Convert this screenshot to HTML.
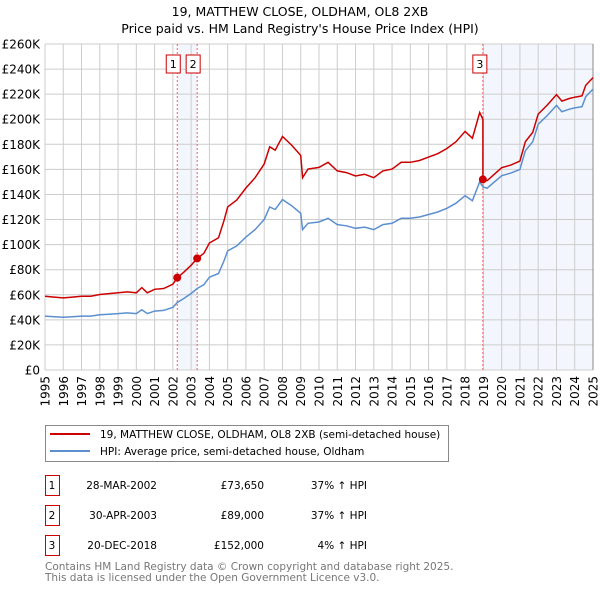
<!DOCTYPE html>
<html><head><meta charset="utf-8"><style>
body{margin:0;background:#fff;font-family:"DejaVu Sans","Liberation Sans",sans-serif;}
svg text{font-family:"DejaVu Sans","Liberation Sans",sans-serif;}
</style></head><body>
<svg id="c" width="600" height="590" viewBox="0 0 600 590" xmlns="http://www.w3.org/2000/svg">
<text x="300" y="16" text-anchor="middle" font-size="12.5">19, MATTHEW CLOSE, OLDHAM, OL8 2XB</text>
<text x="300" y="33" text-anchor="middle" font-size="12.5">Price paid vs. HM Land Registry's House Price Index (HPI)</text>
<g id="plot"></g>
<g>
<rect x="45.5" y="425.5" width="403" height="36" fill="#fff" stroke="#888"/>
<line x1="50" y1="434" x2="90" y2="434" stroke="#cc0000" stroke-width="2"/>
<text x="100" y="438" font-size="10.5">19, MATTHEW CLOSE, OLDHAM, OL8 2XB (semi-detached house)</text>
<line x1="50" y1="451" x2="90" y2="451" stroke="#5b8fd0" stroke-width="2"/>
<text x="100" y="455" font-size="10.5">HPI: Average price, semi-detached house, Oldham</text>
</g>
<g id="table" font-size="10.5"></g>
<text x="45" y="570" font-size="10.5" fill="#777">Contains HM Land Registry data © Crown copyright and database right 2025.</text>
<text x="45" y="581" font-size="10.5" fill="#777">This data is licensed under the Open Government Licence v3.0.</text>
</svg>
<script>
const hpiT=[1995,1995.5,1996,1996.5,1997,1997.5,1998,1998.5,1999,1999.5,2000,2000.3,2000.6,2001,2001.5,2002,2002.24,2002.6,2003,2003.33,2003.7,2004,2004.5,2004.8,2005,2005.5,2006,2006.5,2007,2007.3,2007.6,2008,2008.5,2009,2009.1,2009.4,2010,2010.5,2011,2011.5,2012,2012.5,2013,2013.5,2014,2014.5,2015,2015.5,2016,2016.5,2017,2017.5,2018,2018.4,2018.8,2018.97,2019.2,2019.6,2020,2020.5,2021,2021.3,2021.7,2022,2022.5,2023,2023.3,2023.7,2024,2024.4,2024.6,2025];
const hpiV=[43,42.5,42,42.5,43,43,44,44.5,45,45.5,45,48,45,47,47.5,50,53.8,57,61,65,68,74,77,87,95,99,106,112,120,130,128,136,131,125,112,117,118,121,116,115,113,114,112,116,117,121,121,122,124,126,129,133,139,135,150,146,145,150,155,157,160,175,182,196,203,211,206,208,209,210,218,224];
const saleT=[2002.24,2003.33,2018.97];
const saleP=[73.65,89,152];
const saleDates=["28-MAR-2002","30-APR-2003","20-DEC-2018"];
const salePriceLabels=["£73,650","£89,000","£152,000"];
const salePct=["37% ↑ HPI","37% ↑ HPI","4% ↑ HPI"];
const yTicks=[0,20,40,60,80,100,120,140,160,180,200,220,240,260];
const years=[];for(let y=1995;y<=2025;y++)years.push(y);

const X0=45,X1=593,Y0=370,Y1=44;
const x=t=>X0+(t-1995)*(X1-X0)/30;
const y=v=>Y0-v*(Y0-Y1)/260;
const NS="http://www.w3.org/2000/svg";
const plot=document.getElementById('plot');
function mk(tag,attrs,parent){const e=document.createElementNS(NS,tag);for(const k in attrs)e.setAttribute(k,attrs[k]);(parent||plot).appendChild(e);return e;}
function hpiAt(t){for(let i=0;i<hpiT.length-1;i++){if(t>=hpiT[i]&&t<=hpiT[i+1]){const f=(t-hpiT[i])/(hpiT[i+1]-hpiT[i]);return hpiV[i]+f*(hpiV[i+1]-hpiV[i]);}}return hpiV[hpiV.length-1];}

let r=mk('rect',{x:x(saleT[0]),y:Y1,width:x(saleT[1])-x(saleT[0]),height:Y0-Y1,fill:'#eef3fc',opacity:0.7});


r=mk('rect',{x:x(saleT[2]),y:Y1,width:X1-x(saleT[2]),height:Y0-Y1,fill:'#eef3fc',opacity:0.7});


yTicks.forEach(v=>{
 const l=mk('line',{x1:X0,x2:X1,y1:y(v),y2:y(v),stroke:'#ccc','stroke-width':1});
 
 
 const t=mk('text',{x:40,y:y(v)+4.5,'text-anchor':'end','font-size':12});
 
 
 t.textContent=v===0?'£0':'£'+v+'K';
});
years.forEach(yr=>{
 const l=mk('line',{x1:x(yr),x2:x(yr),y1:Y1,y2:Y0,stroke:yr===2025?'#888':'#ccc','stroke-width':1});
 
 
 const t=mk('text',{x:0,y:0,'text-anchor':'end','font-size':12,transform:`translate(${x(yr)+4.5},376) rotate(-90)`});
 
 
 t.textContent=yr;
});
const labelOff=[-4,-4,-3];
saleT.forEach((t,i)=>{
 const l=mk('line',{x1:x(t),x2:x(t),y1:Y1,y2:Y0,stroke:'#f06060','stroke-width':1,'stroke-dasharray':'2,2'});
 
 
 const bx=x(t)+labelOff[i];
 const b=mk('rect',{x:bx-7,y:55,width:14,height:18,fill:'#fff',stroke:'#cc0000'});
 
 
 const tx=mk('text',{x:bx,y:68,'text-anchor':'middle','font-size':11});
 
 
 tx.textContent=i+1;
});
const hp=hpiT.map((t,i)=>x(t).toFixed(1)+','+y(hpiV[i]).toFixed(1)).join(' ');
const hl=mk('polyline',{points:hp,fill:'none',stroke:'#5b8fd0','stroke-width':1.5});


function ratioAt(t){let k=0;for(let i=0;i<saleT.length;i++)if(t>=saleT[i])k=i;return saleP[k]/hpiAt(saleT[k]);}
const pts=[];
hpiT.forEach((t,i)=>{
 if(Math.abs(t-saleT[2])<1e-6){pts.push([t,hpiV[i]*saleP[1]/hpiAt(saleT[1])]);}
 pts.push([t,hpiV[i]*ratioAt(t)]);
});
const pl=mk('polyline',{points:pts.map(p=>x(p[0]).toFixed(1)+','+y(p[1]).toFixed(1)).join(' '),fill:'none',stroke:'#cc0000','stroke-width':1.5});


saleT.forEach((t,i)=>{
 const c=mk('circle',{cx:x(t),cy:y(saleP[i]),r:4,fill:'#cc0000'});
 
 
});
const tb=document.getElementById('table');
saleT.forEach((t,i)=>{
 const yy=475+i*30;
 const b=mk('rect',{x:45.5,y:yy+0.5,width:14,height:20,fill:'#fff',stroke:'#cc0000'},tb);
 
 
 const cells=[[52,'middle',String(i+1)],[157,'end',saleDates[i]],[264,'end',salePriceLabels[i]],[367,'end',salePct[i]]];
 cells.forEach(c=>{
  const tx=mk('text',{x:c[0],y:yy+14,'text-anchor':c[1]},tb);
  
  
  tx.textContent=c[2];
 });
});
</script>
</body></html>
